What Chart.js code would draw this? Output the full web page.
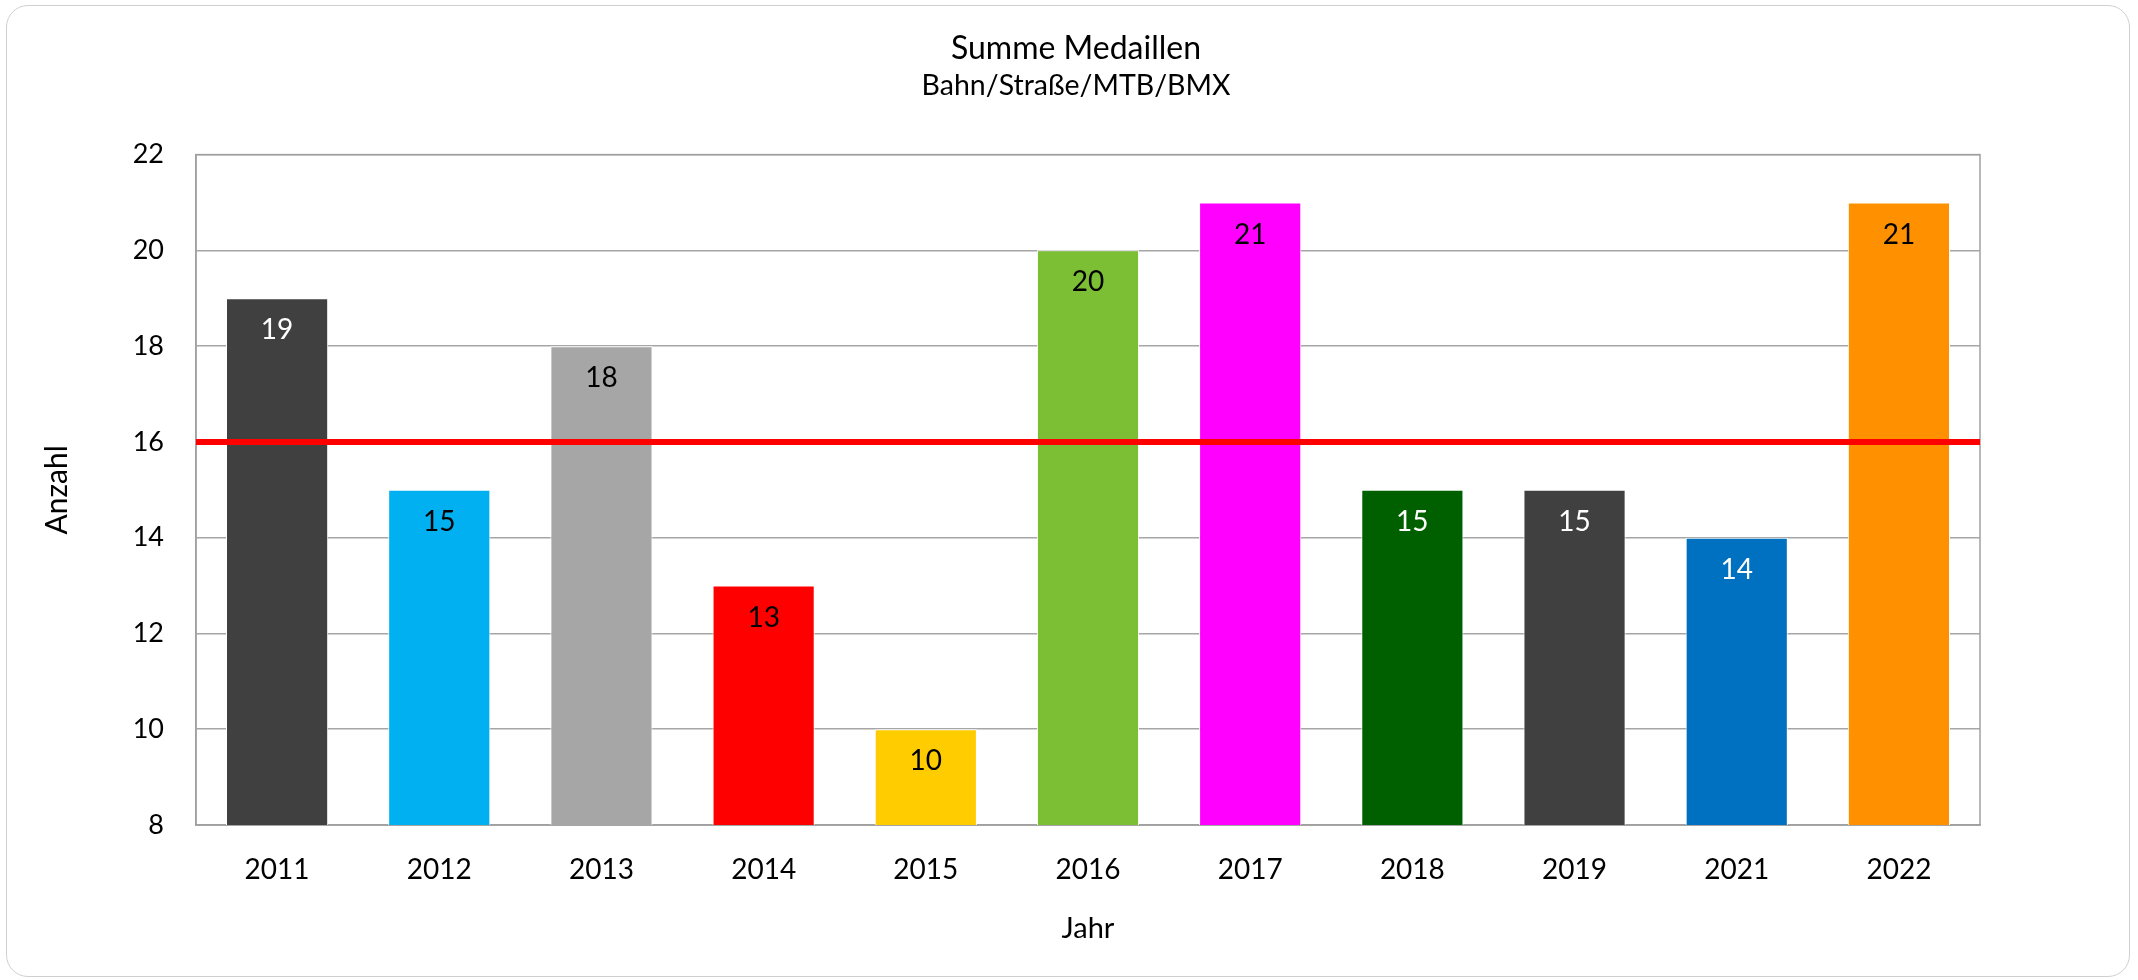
<!DOCTYPE html>
<html>
<head>
<meta charset="utf-8">
<script src="https://cdn.jsdelivr.net/npm/chart.js@4.4.1/dist/chart.umd.min.js"></script>
<style>
  html, body { margin: 0; padding: 0; background: #ffffff; }
  #wrap { position: relative; width: 2138px; height: 980px; }
  #frame { position: absolute; left: 6px; top: 5px; width: 2122px; height: 970px;
           border: 1.5px solid #cfcfcf; border-radius: 22px; pointer-events: none; }
  canvas { position: absolute; left: 0; top: 0; }
</style>
</head>
<body>
<div id="wrap">
  <canvas id="c" width="2138" height="980"></canvas>
  <div id="frame"></div>
</div>
<script>
const years = ['2011','2012','2013','2014','2015','2016','2017','2018','2019','2021','2022'];
const medals = [19, 15, 18, 13, 10, 20, 21, 15, 15, 14, 21];
const barColors = ['#404040','#00b0f0','#a6a6a6','#ff0000','#ffcc00','#7cbf34','#ff00ff','#006000','#404040','#0070c0','#ff9100'];
const labelColors = ['#ffffff','#000000','#000000','#000000','#000000','#000000','#000000','#ffffff','#ffffff','#ffffff','#000000'];
const referenceLine = [16, 16];
const yTicks = [8, 10, 12, 14, 16, 18, 20, 22];

const FONT = 'Lato, "Open Sans", sans-serif';

const valueLabels = {
  id: 'valueLabels',
  afterDatasetsDraw(chart) {
    const ctx = chart.ctx;
    const meta = chart.getDatasetMeta(0);
    ctx.save();
    ctx.font = '28px ' + FONT;
    ctx.textAlign = 'center';
    ctx.textBaseline = 'middle';
    meta.data.forEach((bar, i) => {
      ctx.fillStyle = labelColors[i];
      ctx.fillText(String(medals[i]), bar.x, bar.y + 32);
    });
    ctx.restore();
  }
};

const plotFrame = {
  id: 'plotFrame',
  beforeDatasetsDraw(chart) {
    const {ctx, chartArea: a} = chart;
    ctx.save();
    ctx.strokeStyle = '#a0a0a0';
    ctx.lineWidth = 1.5;
    ctx.strokeRect(a.left, a.top, a.right - a.left, a.bottom - a.top);
    ctx.restore();
  }
};

new Chart(document.getElementById('c'), {
  type: 'bar',
  data: {
    labels: years,
    datasets: [
      {
        type: 'bar',
        data: medals,
        backgroundColor: barColors,
        borderColor: '#ffffff',
        borderWidth: 1,
        grouped: false,
        categoryPercentage: 1,
        barPercentage: 0.63,
        order: 2
      },
      {
        type: 'line',
        data: referenceLine,
        xAxisID: 'x2',
        borderColor: '#ff0000',
        borderWidth: 6,
        pointRadius: 0,
        fill: false,
        order: 1
      }
    ]
  },
  options: {
    responsive: false,
    animation: false,
    events: [],
    layout: { padding: { left: 14, right: 0, top: 0, bottom: 0 } },
    plugins: {
      legend: { display: false },
      tooltip: { enabled: false },
      title: {
        display: true,
        text: 'Summe Medaillen',
        color: '#000000',
        font: { family: FONT, size: 32, weight: 'normal' },
        padding: { top: 29, bottom: 1 }
      },
      subtitle: {
        display: true,
        text: 'Bahn/Straße/MTB/BMX',
        color: '#000000',
        font: { family: FONT, size: 28.5, weight: 'normal' },
        padding: { top: 0, bottom: 52 }
      }
    },
    scales: {
      x: {
        type: 'category',
        offset: true,
        grid: { display: false, drawTicks: false },
        border: { display: true, color: '#a0a0a0', width: 1.5 },
        ticks: { color: '#000000', font: { family: FONT, size: 28 }, padding: 28, maxRotation: 0 },
        title: { display: true, text: 'Jahr', color: '#000000', font: { family: FONT, size: 29 }, padding: { top: 0, bottom: 34 } },
        afterFit(scale) { scale.height = 155; }
      },
      x2: {
        type: 'category',
        labels: ['a', 'b'],
        offset: false,
        display: false
      },
      y: {
        min: 8,
        max: 22,
        afterBuildTicks(scale) { scale.ticks = yTicks.map(v => ({ value: v })); },
        grid: { color: '#a6a6a6', lineWidth: 1.5, drawTicks: false },
        border: { display: true, color: '#a0a0a0', width: 1.5 },
        ticks: { color: '#000000', font: { family: FONT, size: 27 }, padding: 32 },
        title: { display: true, text: 'Anzahl', color: '#000000', font: { family: FONT, size: 30 }, padding: { top: 25, bottom: 0 } },
        afterFit(scale) { scale.width = 182; }
      },
      yRight: {
        type: 'linear',
        position: 'right',
        display: true,
        min: 8,
        max: 22,
        grid: { display: false, drawTicks: false },
        border: { display: false },
        ticks: { display: false },
        afterFit(scale) { scale.width = 158; }
      }
    }
  },
  plugins: [plotFrame, valueLabels]
});
</script>
</body>
</html>
